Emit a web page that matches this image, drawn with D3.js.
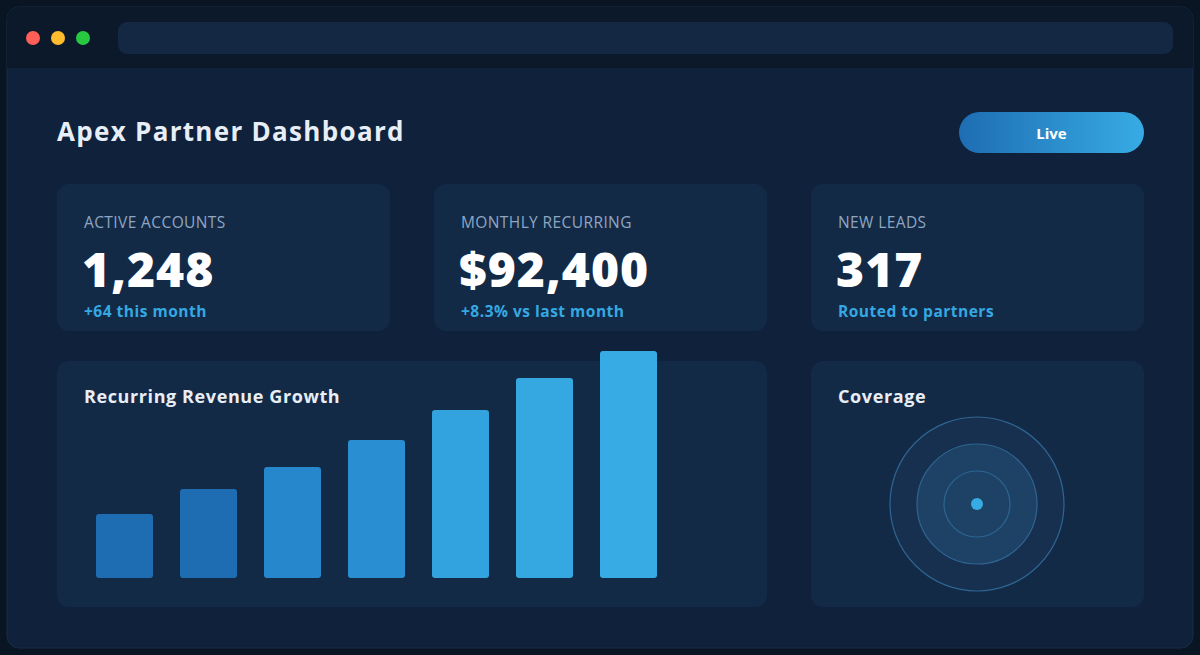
<!DOCTYPE html>
<html><head><meta charset="utf-8">
<script src="https://cdn.jsdelivr.net/npm/d3@7"></script>
<style>html,body{margin:0;background:#0a1524;}svg{display:block;font-family:"Open Sans",sans-serif;}</style>
</head><body><svg id="c" width="1200" height="655"></svg>
<script>
const months = ["M1","M2","M3","M4","M5","M6","M7"];
const revenue = [64, 89, 111, 138, 168, 200, 227];
const barColors = ["#1e6db3","#1e6db3","#2787cc","#2a8ed2","#33a3df","#35a8e2","#37abe4"];
const kpiLabels = ["ACTIVE ACCOUNTS","MONTHLY RECURRING","NEW LEADS"];
const kpiValues = ["1,248","$92,400","317"];
const kpiNotes = ["+64 this month","+8.3% vs last month","Routed to partners"];
const coverageRings = [87, 60, 33];

const svg = d3.select("#c");
const defs = svg.append("defs");
const g = defs.append("linearGradient").attr("id","live");
g.append("stop").attr("offset","0").attr("stop-color","#1e6db3");
g.append("stop").attr("offset","1").attr("stop-color","#37abe4");

svg.append("rect").attr("x",7).attr("y",7).attr("width",1186).attr("height",641).attr("rx",12)
  .attr("fill","#0f213b").attr("stroke","#1a2c45");
svg.append("path").attr("d","M7,68 V19 a12,12 0 0 1 12,-12 H1181 a12,12 0 0 1 12,12 V68 Z").attr("fill","#0c192b");
[["#ff5f57",33],["#febc2e",58],["#28c840",83]].forEach(([c,x])=>svg.append("circle").attr("cx",x).attr("cy",38).attr("r",7).attr("fill",c));
svg.append("rect").attr("x",118).attr("y",22).attr("width",1055).attr("height",32).attr("rx",9).attr("fill","#142843");

svg.append("text").attr("x",57).attr("y",141).attr("fill","#e8eef6").attr("font-size",26).attr("font-weight",700).attr("letter-spacing",1.3).text("Apex Partner Dashboard");
svg.append("rect").attr("x",959).attr("y",112).attr("width",185).attr("height",41).attr("rx",20.5).attr("fill","url(#live)");
svg.append("text").attr("x",1051.5).attr("y",139).attr("text-anchor","middle").attr("fill","#fff").attr("font-size",15).attr("font-weight",700).text("Live");

const cardX = [57,434,811];
kpiLabels.forEach((l,i)=>{
  const x = cardX[i];
  svg.append("rect").attr("x",x).attr("y",184).attr("width",333).attr("height",147).attr("rx",12).attr("fill","#132a47");
  svg.append("text").attr("x",x+27).attr("y",228).attr("fill","#8fa6c2").attr("font-size",15.5).attr("letter-spacing",0.4).text(l);
  svg.append("text").attr("x",x+25).attr("y",287).attr("fill","#fff").attr("font-size",48).attr("font-weight",800).attr("letter-spacing",1).text(kpiValues[i]);
  svg.append("text").attr("x",x+27).attr("y",317).attr("fill","#35a8e2").attr("font-size",15.5).attr("font-weight",700).attr("letter-spacing",0.5).text(kpiNotes[i]);
});

svg.append("rect").attr("x",57).attr("y",361).attr("width",710).attr("height",246).attr("rx",12).attr("fill","#132a47");
svg.append("rect").attr("x",811).attr("y",361).attr("width",333).attr("height",246).attr("rx",12).attr("fill","#132a47");
svg.append("text").attr("x",84).attr("y",403).attr("fill","#e8eef6").attr("font-size",18).attr("font-weight",700).attr("letter-spacing",0.6).text("Recurring Revenue Growth");
svg.append("text").attr("x",838).attr("y",403).attr("fill","#e8eef6").attr("font-size",18).attr("font-weight",700).attr("letter-spacing",0.6).text("Coverage");

const xs = d3.scaleBand().domain(months).range([96,657]).paddingInner(27/84).paddingOuter(0);
const y = d3.scaleLinear().domain([0,227]).range([578,351]);
svg.append("g").selectAll("rect").data(revenue).join("rect")
  .attr("x",(d,i)=>xs(months[i])).attr("width",xs.bandwidth())
  .attr("y",d=>y(d)).attr("height",d=>578-y(d)).attr("rx",3)
  .attr("fill",(d,i)=>barColors[i]);

const cx=977, cy=504;
const ringFill = ["#17304f","#1d4266","#1d4266"];
coverageRings.forEach((r,i)=>svg.append("circle").attr("cx",cx).attr("cy",cy).attr("r",r)
  .attr("fill",ringFill[i]).attr("stroke","#2f6592").attr("stroke-width",1.2));
svg.append("circle").attr("cx",cx).attr("cy",cy).attr("r",6).attr("fill","#37abe4");
</script></body></html>
